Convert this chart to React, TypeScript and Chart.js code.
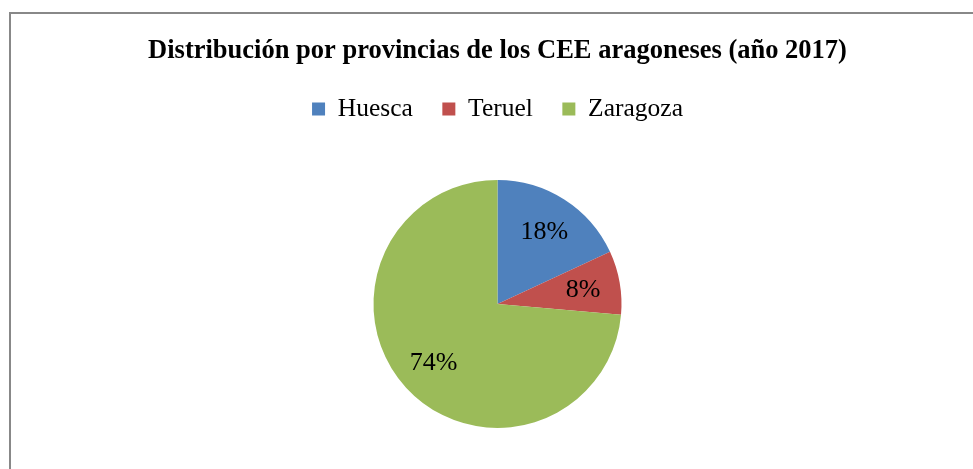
import React, { useEffect, useRef } from "react";
import { Chart, registerables } from "chart.js";

Chart.register(...registerables);

const titleText = "Distribución por provincias de los CEE aragoneses (año 2017)";
const provinces = ["Huesca", "Teruel", "Zaragoza"];
const shares = [18.1, 8.3, 73.6];
const colors = ["#4F81BD", "#C0504D", "#9BBB59"];

const FONT = '"Liberation Serif", "Times New Roman", serif';

const pctLabels = {
  id: "pctLabels",
  afterDatasetsDraw(chart: any) {
    const ctx = chart.ctx;
    const meta = chart.getDatasetMeta(0);
    const data = chart.data.datasets[0].data as number[];
    const total = data.reduce((a, b) => a + b, 0);
    ctx.save();
    ctx.font = `26px ${FONT}`;
    ctx.fillStyle = "#000";
    ctx.textAlign = "center";
    ctx.textBaseline = "middle";
    meta.data.forEach((arc: any, i: number) => {
      const p = arc.getProps(["x", "y", "startAngle", "endAngle", "outerRadius"], true);
      const mid = (p.startAngle + p.endAngle) / 2;
      const r = p.outerRadius * 0.7;
      const x = p.x + Math.cos(mid) * r;
      const y = p.y + Math.sin(mid) * r + 1;
      ctx.fillText(Math.round((data[i] / total) * 100) + "%", x, y);
    });
    ctx.restore();
  },
};

export default function App() {
  const ref = useRef<HTMLCanvasElement>(null);
  useEffect(() => {
    if (!ref.current) return;
    const chart = new Chart(ref.current, {
      type: "pie",
      data: {
        labels: provinces,
        datasets: [
          {
            data: shares,
            backgroundColor: colors,
            borderWidth: 0,
            radius: 124,
          } as any,
        ],
      },
      options: {
        responsive: false,
        animation: false,
        layout: { padding: { left: 22, top: 0, right: 0, bottom: 0 } },
        plugins: {
          title: {
            display: true,
            text: titleText,
            color: "#000",
            font: { family: FONT, size: 26.5, weight: "bold", lineHeight: 1.2 },
            padding: { top: 35, bottom: 0 },
          },
          legend: {
            display: true,
            position: "top",
            labels: {
              color: "#000",
              boxWidth: 13,
              boxHeight: 13,
              padding: 29.5,
              font: { family: FONT, size: 25.5, lineHeight: 1.2 },
            },
          },
          tooltip: { enabled: false },
        },
      },
      plugins: [pctLabels],
    });
    return () => chart.destroy();
  }, []);

  return (
    <div
      style={{
        position: "fixed",
        left: 0,
        top: 0,
        width: 973,
        height: 469,
        overflow: "hidden",
        background: "#fff",
      }}
    >
      <div
        style={{
          position: "absolute",
          left: 9,
          top: 12,
          width: 1000,
          height: 500,
          border: "2px solid #888",
          boxSizing: "border-box",
        }}
      />
      <canvas
        ref={ref}
        width={973}
        height={476}
        style={{ position: "absolute", left: 0, top: 0, width: 973, height: 476 }}
      />
    </div>
  );
}
